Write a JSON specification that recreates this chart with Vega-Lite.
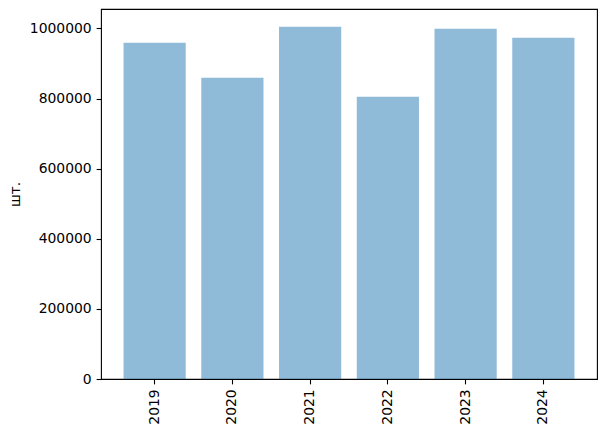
{
  "$schema": "https://vega.github.io/schema/vega-lite/v6.json",
  "autosize": "none",
  "width": 496,
  "height": 370,
  "padding": {"left": 101, "top": 9, "right": 10, "bottom": 55},
  "background": "white",
  "config": {
    "font": "DejaVu Sans",
    "view": {"stroke": "#000000", "strokeWidth": 1.1},
    "axis": {
      "grid": false,
      "domain": false,
      "tickColor": "#000000",
      "tickWidth": 1.1,
      "tickSize": 4.9,
      "labelColor": "#000000",
      "labelFont": "DejaVu Sans",
      "labelFontSize": 13.9,
      "labelPadding": 4.9,
      "titleFont": "DejaVu Sans",
      "titleFontSize": 13.9,
      "titleFontWeight": "normal",
      "titleColor": "#000000"
    }
  },
  "data": {
    "values": [
      {"year": "2019", "value": 959500},
      {"year": "2020", "value": 859600},
      {"year": "2021", "value": 1005100},
      {"year": "2022", "value": 805400},
      {"year": "2023", "value": 999400},
      {"year": "2024", "value": 973800}
    ]
  },
  "mark": {"type": "bar", "color": "#1f77b4", "opacity": 0.5},
  "encoding": {
    "x": {
      "field": "year",
      "type": "ordinal",
      "scale": {"paddingInner": 0.2, "paddingOuter": 0.29},
      "axis": {"title": null, "labelAngle": -90, "labelAlign": "right", "labelBaseline": "middle"}
    },
    "y": {
      "field": "value",
      "type": "quantitative",
      "scale": {"domain": [0, 1055600], "nice": false, "zero": true},
      "axis": {"title": "шт.", "values": [0, 200000, 400000, 600000, 800000, 1000000], "format": "d", "titlePadding": 7}
    }
  }
}
